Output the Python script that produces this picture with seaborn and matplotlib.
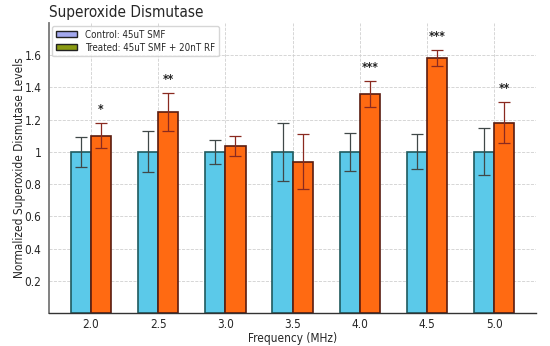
import pandas as pd
import seaborn as sns
import matplotlib
matplotlib.use("Agg")
import matplotlib.pyplot as plt
from matplotlib.patches import Patch

sns.set_style("whitegrid")
plt.rcParams["font.stretch"] = "condensed"

freqs = ["2.0", "2.5", "3.0", "3.5", "4.0", "4.5", "5.0"]
control = [1.0, 1.0, 1.0, 1.0, 1.0, 1.0, 1.0]
control_err = [0.095, 0.127, 0.075, 0.18, 0.12, 0.108, 0.145]
treated = [1.10, 1.245, 1.035, 0.94, 1.36, 1.58, 1.18]
treated_err = [0.078, 0.117, 0.062, 0.17, 0.08, 0.05, 0.128]
stars = ["*", "**", "", "", "***", "***", "**"]

groups = ["Control: 45uT SMF", "Treated: 45uT SMF + 20nT RF"]

data = pd.DataFrame({
    "Frequency": freqs * 2,
    "Group": [groups[0]] * len(freqs) + [groups[1]] * len(freqs),
    "Level": control + treated,
})

fig, ax = plt.subplots(figsize=(5.5, 3.46), dpi=100)
fig.subplots_adjust(left=0.089, right=0.975, top=0.934, bottom=0.095)

sns.barplot(data=data, x="Frequency", y="Level", hue="Group", order=freqs,
            hue_order=groups, palette=["#5bc9e9", "#ff6a12"], width=0.6,
            errorbar=None, legend=False, ax=ax, saturation=1)

edges = ["#1f5a5e", "#5a1c10"]
errc = ["#404848", "#8a2a20"]
errs = [control_err, treated_err]
bar_sets = list(ax.containers)
for i, cont in enumerate(bar_sets):
    xs = [b.get_x() + b.get_width() / 2 for b in cont]
    ys = [b.get_height() for b in cont]
    for b in cont:
        b.set_edgecolor(edges[i])
        b.set_linewidth(1.2)
    ax.errorbar(xs, ys, yerr=errs[i], fmt="none", ecolor=errc[i],
                elinewidth=0.9, capsize=4, capthick=0.9, zorder=5)
    if i == 1:
        for x, y, e, s in zip(xs, ys, errs[i], stars):
            if s:
                ax.text(x, y + e + 0.045, s, ha="center", va="bottom",
                        fontsize=8.5, fontweight="bold", color="#222222")

ax.set_ylim(0, 1.8)
ax.set_xlim(-0.625, 6.625)
ax.set_yticks([0.2, 0.4, 0.6, 0.8, 1.0, 1.2, 1.4, 1.6])
ax.set_yticklabels(["0.2", "0.4", "0.6", "0.8", "1", "1.2", "1.4", "1.6"])
ax.tick_params(labelsize=8.5, pad=2)
ax.tick_params(axis="x", pad=0)
ax.grid(True, linestyle="--", color="#d0d0d0", linewidth=0.6)
ax.set_axisbelow(True)
for s in ["top", "right"]:
    ax.spines[s].set_visible(False)
ax.spines["left"].set_color("#777777")
ax.spines["left"].set_linewidth(1.3)
ax.spines["bottom"].set_color("#333333")
ax.spines["bottom"].set_linewidth(1.0)

ax.set_xlabel("Frequency (MHz)", fontsize=8.5, labelpad=1)
ax.set_ylabel("Normalized Superoxide Dismutase Levels", fontsize=8.5)
ax.yaxis.set_label_coords(-0.047, 0.5)
ax.set_title("Superoxide Dismutase", loc="left", fontsize=11, pad=4)

handles = [Patch(facecolor="#a3a8ee", edgecolor="#222222", label=groups[0]),
           Patch(facecolor="#8a9a12", edgecolor="#222222", label=groups[1])]
ax.legend(handles=handles, loc="upper left", fontsize=7, frameon=True,
          handlelength=2.2, handleheight=0.6, borderpad=0.4, labelspacing=0.3,
          borderaxespad=0.3)

fig.savefig("out.png", dpi=100)
